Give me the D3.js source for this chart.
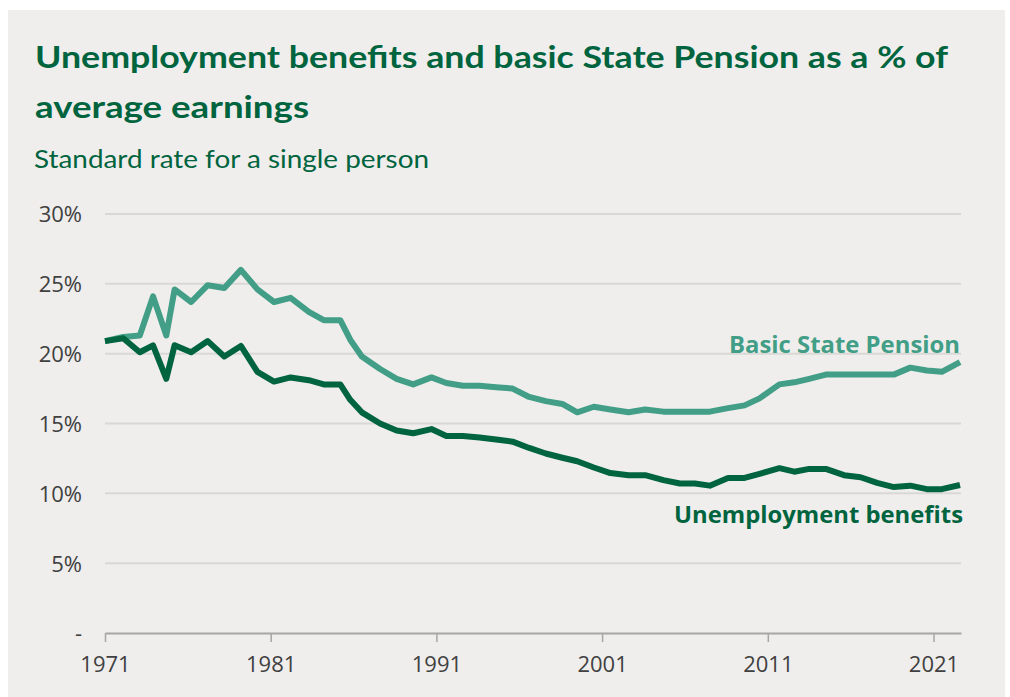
<!DOCTYPE html>
<html lang="en">
<head>
  <meta charset="utf-8">
  <title>Unemployment benefits and basic State Pension</title>
  <script src="https://d3js.org/d3.v7.min.js"></script>
  <style>
    html, body { margin: 0; padding: 0; background: #ffffff; }
    svg { display: block; }
  </style>
</head>
<body>
  <svg id="chart"></svg>
  <script>
  const years = [1971.0, 1972.1, 1973.1, 1973.9, 1974.7, 1975.2, 1976.2, 1977.2, 1978.2, 1979.2,
    1980.2, 1981.2, 1982.2, 1983.3, 1984.2, 1985.2, 1985.8, 1986.5, 1987.6, 1988.6,
    1989.6, 1990.7, 1991.6, 1992.6, 1993.6, 1994.6, 1995.6, 1996.6, 1997.6, 1998.6,
    1999.5, 2000.5, 2001.5, 2002.6, 2003.6, 2004.7, 2005.7, 2006.6, 2007.5, 2008.6,
    2009.6, 2010.5, 2011.7, 2012.6, 2013.5, 2014.5, 2015.6, 2016.6, 2017.6, 2018.6,
    2019.6, 2020.6, 2021.5, 2022.6];
  const pension = [20.9, 21.2, 21.3, 24.1, 21.3, 24.6, 23.7, 24.9, 24.7, 26.0,
    24.6, 23.7, 24.0, 23.0, 22.4, 22.4, 21.0, 19.8, 18.9, 18.2,
    17.8, 18.3, 17.9, 17.7, 17.7, 17.6, 17.5, 16.9, 16.6, 16.4,
    15.8, 16.2, 16.0, 15.8, 16.0, 15.85, 15.85, 15.85, 15.85, 16.1,
    16.3, 16.8, 17.8, 17.95, 18.2, 18.5, 18.5, 18.5, 18.5, 18.5,
    19.0, 18.8, 18.7, 19.4];
  const unemployment = [20.9, 21.1, 20.1, 20.6, 18.2, 20.6, 20.1, 20.9, 19.8, 20.55,
    18.7, 18.0, 18.3, 18.1, 17.8, 17.8, 16.7, 15.8, 15.0, 14.5,
    14.3, 14.6, 14.1, 14.1, 14.0, 13.85, 13.7, 13.25, 12.85, 12.55,
    12.3, 11.85, 11.45, 11.3, 11.3, 10.95, 10.7, 10.7, 10.55, 11.1,
    11.1, 11.4, 11.8, 11.55, 11.75, 11.75, 11.3, 11.15, 10.75, 10.45,
    10.55, 10.3, 10.3, 10.6];
  const yTicks = [0, 5, 10, 15, 20, 25, 30];
  const xTicks = [1971, 1981, 1991, 2001, 2011, 2021];

  const W = 1010, H = 697;
  const darkGreen = "#00643f";
  const lightGreen = "#429e86";

  const svg = d3.select("#chart").attr("width", W).attr("height", H);

  svg.append("rect")
    .attr("x", 8).attr("y", 10)
    .attr("width", 997).attr("height", H - 10)
    .attr("fill", "#efeeec");

  // title + subtitle, stretched to the widths seen in the reference
  svg.append("text")
    .attr("x", 35).attr("y", 68)
    .attr("textLength", 913).attr("lengthAdjust", "spacingAndGlyphs")
    .style("font-family", "Lato, 'Noto Sans', sans-serif")
    .style("font-weight", 700).style("font-size", "31px")
    .attr("fill", darkGreen)
    .text("Unemployment benefits and basic State Pension as a % of");
  svg.append("text")
    .attr("x", 35).attr("y", 118)
    .attr("textLength", 274).attr("lengthAdjust", "spacingAndGlyphs")
    .style("font-family", "Lato, 'Noto Sans', sans-serif")
    .style("font-weight", 700).style("font-size", "31px")
    .attr("fill", darkGreen)
    .text("average earnings");
  svg.append("text")
    .attr("x", 34).attr("y", 168)
    .attr("textLength", 395).attr("lengthAdjust", "spacingAndGlyphs")
    .style("font-family", "Lato, 'Noto Sans', sans-serif")
    .style("font-size", "25px")
    .attr("fill", darkGreen)
    .text("Standard rate for a single person");

  const x = d3.scaleLinear().domain([1971, 2022.66]).range([105, 961]);
  const y = d3.scaleLinear().domain([0, 30]).range([633, 214]);

  // gridlines
  svg.append("g")
    .selectAll("line")
    .data(yTicks.filter(d => d > 0))
    .join("line")
    .attr("x1", x.range()[0]).attr("x2", x.range()[1])
    .attr("y1", d => y(d)).attr("y2", d => y(d))
    .attr("stroke", "#d9d8d6").attr("stroke-width", 2);

  const yAxis = svg.append("g")
    .attr("transform", "translate(" + 82 + ",0)")
    .call(d3.axisLeft(y).tickValues(yTicks).tickSize(0).tickPadding(0)
      .tickFormat(d => d === 0 ? "-" : d + "%"));
  yAxis.select(".domain").remove();
  yAxis.selectAll("text")
    .attr("dy", "0.36em")
    .style("font-family", "'Open Sans', sans-serif")
    .style("font-size", "22px")
    .attr("fill", "#404040");

  const xAxis = svg.append("g")
    .attr("transform", "translate(0," + y(0) + ")")
    .call(d3.axisBottom(x).tickValues(xTicks).tickSize(9).tickSizeOuter(0)
      .tickPadding(14).tickFormat(d => d));
  xAxis.select(".domain").attr("stroke", "#a6a6a6").attr("stroke-width", 2);
  xAxis.selectAll(".tick line").attr("stroke", "#a6a6a6").attr("stroke-width", 1.5);
  xAxis.selectAll("text")
    .style("font-family", "'Open Sans', sans-serif")
    .style("font-size", "22px")
    .attr("fill", "#404040");

  const line = d3.line().x(d => x(d[0])).y(d => y(d[1]));

  svg.append("path")
    .datum(d3.zip(years, pension))
    .attr("d", line)
    .attr("fill", "none")
    .attr("stroke", lightGreen)
    .attr("stroke-width", 6)
    .attr("stroke-linejoin", "round");

  svg.append("path")
    .datum(d3.zip(years, unemployment))
    .attr("d", line)
    .attr("fill", "none")
    .attr("stroke", darkGreen)
    .attr("stroke-width", 6)
    .attr("stroke-linejoin", "round");

  // series labels
  svg.append("text")
    .attr("x", 960).attr("y", 353)
    .attr("text-anchor", "end")
    .attr("textLength", 231).attr("lengthAdjust", "spacingAndGlyphs")
    .style("font-family", "'Open Sans', sans-serif")
    .style("font-weight", 700).style("font-size", "23px")
    .attr("fill", lightGreen)
    .text("Basic State Pension");
  svg.append("text")
    .attr("x", 963).attr("y", 523)
    .attr("text-anchor", "end")
    .attr("textLength", 289).attr("lengthAdjust", "spacingAndGlyphs")
    .style("font-family", "'Open Sans', sans-serif")
    .style("font-weight", 700).style("font-size", "23px")
    .attr("fill", darkGreen)
    .text("Unemployment benefits");
  </script>
</body>
</html>
